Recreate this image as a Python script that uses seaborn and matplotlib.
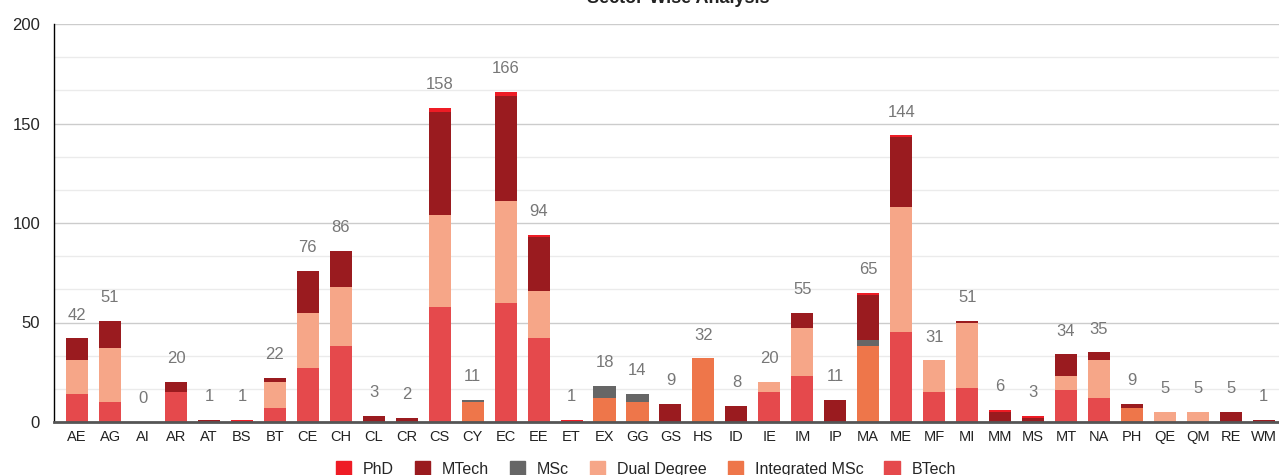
import numpy as np
import pandas as pd
import matplotlib
matplotlib.use("Agg")
import matplotlib.pyplot as plt
import matplotlib.patches as mpatches
import seaborn as sns

# branch codes on the x axis
branches = ["AE", "AG", "AI", "AR", "AT", "BS", "BT", "CE", "CH", "CL", "CR", "CS",
            "CY", "EC", "EE", "ET", "EX", "GG", "GS", "HS", "ID", "IE", "IM", "IP",
            "MA", "ME", "MF", "MI", "MM", "MS", "MT", "NA", "PH", "QE", "QM", "RE", "WM"]

# counts per programme (stack order bottom -> top)
btech = [14, 10, 0, 15, 0, 0, 7, 27, 38, 0, 0, 58,
         0, 60, 42, 0, 0, 0, 0, 0, 0, 15, 23, 0,
         0, 45, 15, 17, 0, 0, 16, 12, 0, 0, 0, 0, 0]
int_msc = [0, 0, 0, 0, 0, 0, 0, 0, 0, 0, 0, 0,
           10, 0, 0, 0, 12, 10, 0, 32, 0, 0, 0, 0,
           38, 0, 0, 0, 0, 0, 0, 0, 7, 0, 0, 0, 0]
dual = [17, 27, 0, 0, 0, 0, 13, 28, 30, 0, 0, 46,
        0, 51, 24, 0, 0, 0, 0, 0, 0, 5, 24, 0,
        0, 63, 16, 33, 0, 0, 7, 19, 0, 5, 5, 0, 0]
msc = [0, 0, 0, 0, 0, 0, 0, 0, 0, 0, 0, 0,
       1, 0, 0, 0, 6, 4, 0, 0, 0, 0, 0, 0,
       3, 0, 0, 0, 0, 0, 0, 0, 0, 0, 0, 0, 0]
mtech = [11, 14, 0, 5, 1, 0, 2, 21, 18, 3, 2, 52,
         0, 53, 27, 0, 0, 0, 9, 0, 8, 0, 8, 11,
         23, 35, 0, 1, 5, 2, 11, 4, 2, 0, 0, 5, 1]
phd = [0, 0, 0, 0, 0, 1, 0, 0, 0, 0, 0, 2,
       0, 2, 1, 1, 0, 0, 0, 0, 0, 0, 0, 0,
       1, 1, 0, 0, 1, 1, 0, 0, 0, 0, 0, 0, 0]

layers = [("BTech", btech, "#e5494c"),
          ("Integrated MSc", int_msc, "#ee764a"),
          ("Dual Degree", dual, "#f6a688"),
          ("MSc", msc, "#666666"),
          ("MTech", mtech, "#9a1b1f"),
          ("PhD", phd, "#ee1c25")]

sns.set_style("white")
plt.rcParams["font.family"] = ["Liberation Sans", "DejaVu Sans"]

fig = plt.figure(figsize=(12.79, 4.75), dpi=100)
ax = fig.add_axes([54 / 1279, 53 / 475, 1 - 54 / 1279, 398 / 475])

# cumulative tops, drawn from the top layer down so lower layers overlay
cum = np.cumsum([np.array(v) for _, v, _ in layers], axis=0)
for k in range(len(layers) - 1, -1, -1):
    df = pd.DataFrame({"branch": branches, "value": cum[k]})
    sns.barplot(data=df, x="branch", y="value", color=layers[k][2], width=0.67,
                saturation=1, ax=ax, linewidth=0, errorbar=None)

totals = cum[-1]
for i, t in enumerate(totals):
    ax.annotate(str(int(t)), (i, t), xytext=(0, 13.5), textcoords="offset points",
                ha="center", va="baseline", fontsize=12, color="#777777")

ax.set_xlim(-0.70, 36.46)
ax.set_ylim(0, 200)
ax.set_yticks([0, 50, 100, 150, 200])
ax.set_yticks(np.arange(0, 201, 50 / 3), minor=True)
ax.grid(axis="y", which="major", color="#cccccc", linewidth=1)
ax.grid(axis="y", which="minor", color="#ebebeb", linewidth=1)
ax.set_axisbelow(True)
ax.tick_params(axis="y", which="major", direction="inout", length=12, width=1,
               color="black", labelsize=12, pad=4)
ax.tick_params(axis="y", which="minor", length=0)
ax.tick_params(axis="x", length=0, labelsize=10.5, pad=6, labelcolor="#222222")
ax.set_xlabel("")
ax.set_ylabel("")
for s in ["top", "right"]:
    ax.spines[s].set_visible(False)
ax.spines["left"].set_color("black")
ax.spines["left"].set_linewidth(1)
ax.spines["bottom"].set_color("#555555")
ax.spines["bottom"].set_linewidth(2)

# title sits mostly above the visible area, as in the source screenshot
fig.text(678 / 1279, 1 - 3 / 475, "Sector-Wise Analysis", ha="center", va="baseline",
         fontsize=13, fontweight="bold", color="#222222")

handles = [mpatches.Patch(color=c, label=n) for n, _, c in reversed(layers)]
fig.legend(handles=handles, loc="center", bbox_to_anchor=(646 / 1279, 1 - 469 / 475),
           ncol=6, frameon=False, fontsize=11.5, handlelength=0.95, handleheight=0.95,
           handletextpad=0.75, columnspacing=1.3)

fig.savefig("out.png", dpi=100)
